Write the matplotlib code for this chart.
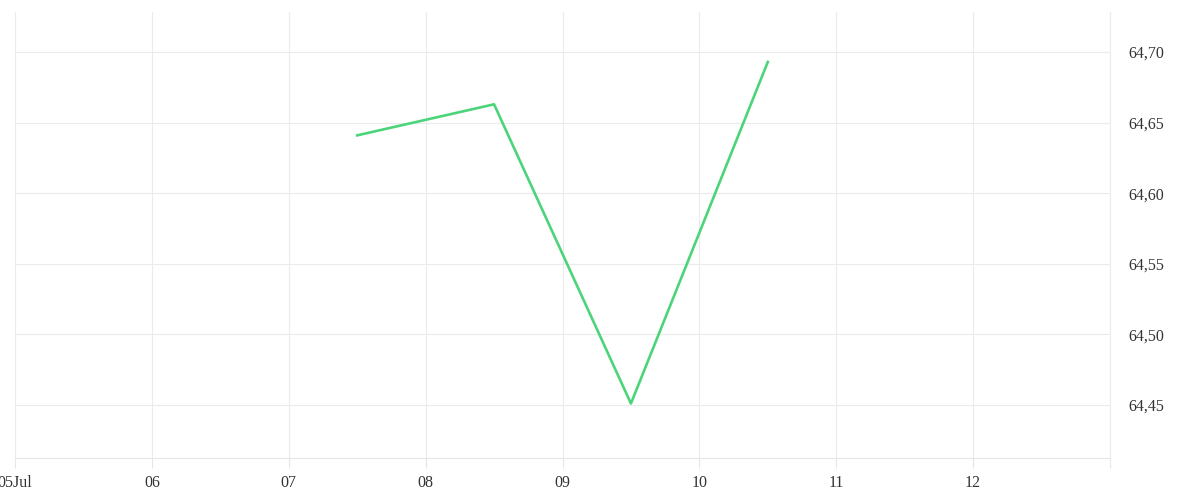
import datetime as dt
import matplotlib
matplotlib.use("Agg")
import matplotlib.pyplot as plt
import matplotlib.dates as mdates
from matplotlib.ticker import FuncFormatter, MultipleLocator

# data
times = [dt.datetime(2024, 7, 7, 12), dt.datetime(2024, 7, 8, 12),
         dt.datetime(2024, 7, 9, 12), dt.datetime(2024, 7, 10, 12)]
values = [64.641, 64.663, 64.451, 64.693]

plt.rcParams['font.family'] = ['Liberation Serif', 'DejaVu Serif']

fig = plt.figure(figsize=(12, 5), dpi=100)
ax = fig.add_axes([0.0125, 0.084, 0.9125, 0.892])

ax.plot(times, values, color="#4cd47a", linewidth=1.9)

ax.set_xlim(dt.datetime(2024, 7, 5), dt.datetime(2024, 7, 13))
ax.set_ylim(64.4124, 64.7284)

ax.xaxis.set_major_locator(mdates.DayLocator())
def xfmt(x, pos):
    d = mdates.num2date(x)
    if d.day == 13:
        return ""
    return d.strftime("%d%b") if d.day == 5 else d.strftime("%d")
ax.xaxis.set_major_formatter(FuncFormatter(xfmt))
ax.yaxis.set_major_locator(MultipleLocator(0.05))
ax.yaxis.set_major_formatter(FuncFormatter(lambda v, p: f"{v:.2f}".replace(".", ",")))
ax.yaxis.tick_right()

ax.grid(True, color="#ebebeb", linewidth=0.8)
for s in ["top", "left", "right"]:
    ax.spines[s].set_visible(False)
ax.spines["bottom"].set_color("#e6e6e6")
ax.tick_params(axis="x", length=7, colors="#e6e6e6", labelcolor="#333333",
               labelsize=11.5, pad=5)
ax.tick_params(axis="y", length=0, labelsize=11.5, labelcolor="#333333", pad=13)
ax.axvline(dt.datetime(2024, 7, 13), color="#ebebeb", linewidth=0.8,
           ymin=-0.016, clip_on=False)

fig.savefig("out.png", dpi=100)
